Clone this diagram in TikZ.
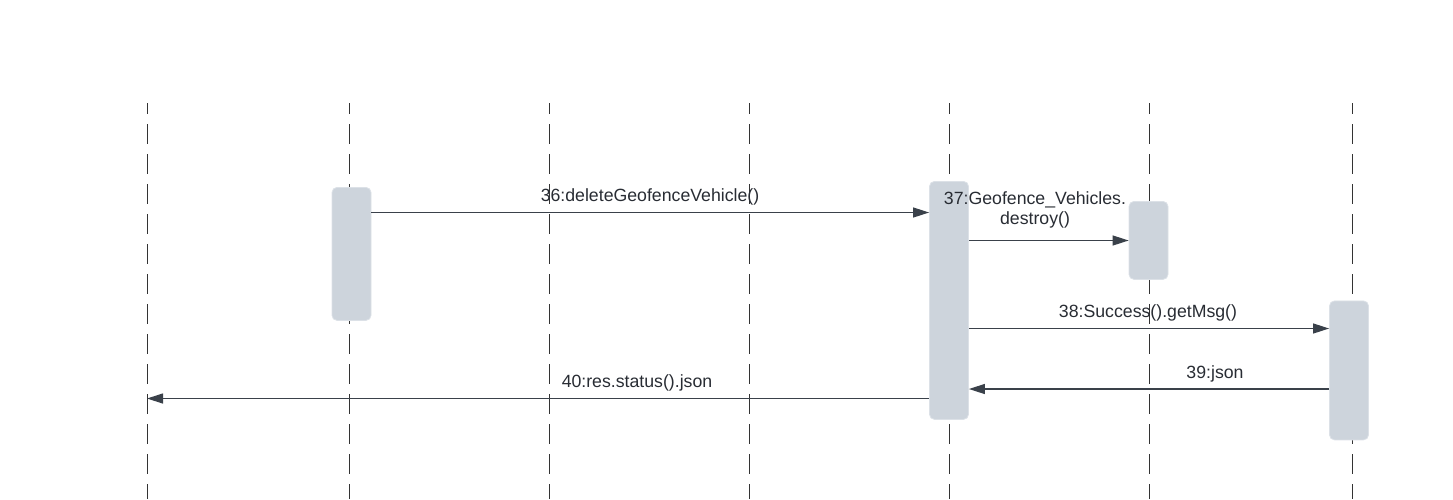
\documentclass[tikz,border=0pt]{standalone}
\usepackage{fontspec}
\setmainfont{Liberation Sans}
\usetikzlibrary{arrows.meta}
\definecolor{boxfill}{HTML}{CDD4DC}
\definecolor{boxedge}{HTML}{DCE1E7}
\definecolor{msgcol}{HTML}{3A414A}
\definecolor{lifecol}{HTML}{333333}
\definecolor{txtcol}{HTML}{282C33}
\begin{document}
\begin{tikzpicture}[x=1pt,y=-1pt,
  life/.style={draw=lifecol,line width=1pt,dash pattern=on 20pt off 10pt,dash phase=9pt},
  actbox/.style={draw=boxedge,line width=0.8pt,fill=boxfill,rounded corners=5pt,minimum width=39pt,inner sep=0pt,anchor=north},
  msg/.style={draw=msgcol,line width=1.2pt,-{Triangle[length=16pt,width=10pt]}},
  lbl/.style={text=txtcol,font=\fontsize{17.7}{21}\selectfont,inner sep=0pt,align=center}]
\useasboundingbox (0,0) rectangle (1453,499);
% lifelines
\foreach \n/\x in {1/147,2/349,3/549,4/749,5/949,6/1149,7/1352}{
  \coordinate (L\n) at (\x,103);
  \coordinate (E\n) at (\x,499);
  \draw[life] (L\n) -- (E\n);
}
% activation boxes
\node[actbox,minimum height=133pt] (b1) at (351.5,187) {};
\node[actbox,minimum height=238pt] (b2) at (949,181) {};
\node[actbox,minimum height=78pt] (b3) at (1148.5,201) {};
\node[actbox,minimum height=139pt] (b4) at (1349,300.5) {};
% labels
\node[lbl] (t36) at (650,197) {36:deleteGeofenceVehicle()};
\node[lbl] (t37) at (1035,210) {37:Geofence\_Vehicles.\\[-1pt]destroy()};
\node[lbl] (t38) at (1148,313) {38:Success().getMsg()};
\node[lbl] (t39) at (1215,374) {39:json};
\node[lbl] (t40) at (637,383) {40:res.status().json};
% messages
\draw[msg] (b1.east |- 0,212.5) -- (b2.west |- 0,212.5);
\draw[msg] (b2.east |- 0,240.5) -- (b3.west |- 0,240.5);
\draw[msg] (b2.east |- 0,328.5) -- (b4.west |- 0,328.5);
\draw[msg] (b4.west |- 0,389) -- (b2.east |- 0,389);
\draw[msg] (b2.west |- 0,398.5) -- (L1 |- 0,398.5);
\end{tikzpicture}
\end{document}
